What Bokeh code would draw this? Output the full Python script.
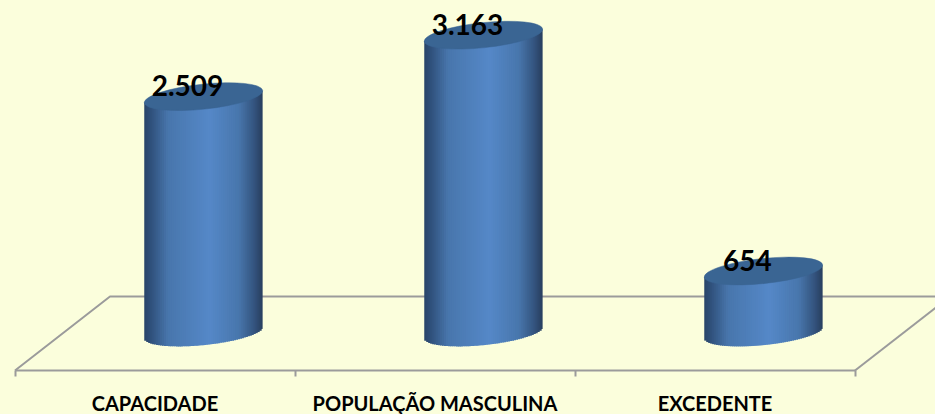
from bokeh.plotting import figure
from bokeh.embed import file_html
from bokeh.resources import INLINE
from bokeh.models import FixedTicker, ColumnDataSource
from bokeh.core.properties import value
import math

categories = ["CAPACIDADE", "POPULAÇÃO MASCULINA", "EXCEDENTE"]
values = [2509, 3163, 654]
labels = ["2.509", "3.163", "654"]

BG = "#fbfedc"
GRAY = "#9b9b9b"
TOP = "#3a6593"
W, H = 935, 414
PX_X = 280.0       # pixels per category
PX_Y = 0.094       # pixels per unit
X0 = 14.5          # px of category boundary 0
BASE = 370         # px of axis line
ZERO = 332         # px of value 0
BAR_OFFSET = 0.673 # cylinder centre inside its category

x_range = (-X0 / PX_X, (W - X0) / PX_X)
y_range = (-(H - ZERO) / PX_Y, ZERO / PX_Y)
y_base = -(BASE - ZERO) / PX_Y

p = figure(width=W, height=H, output_backend="svg", toolbar_location=None,
           x_range=x_range, y_range=y_range, y_axis_location=None,
           background_fill_color=BG, border_fill_color=BG, outline_line_color=None,
           min_border_left=0, min_border_right=0, min_border_top=0, min_border_bottom=0)
p.grid.visible = False

# floor
depth_x, depth_y = 95 / PX_X, 74 / PX_Y
p.line([0, depth_x, 3 + depth_x], [y_base, y_base + depth_y, y_base + depth_y],
       line_color=GRAY, line_width=2)
p.line([3, 3 + depth_x], [y_base, y_base + depth_y], line_color=GRAY, line_width=2)

# cylinders
theta = math.radians(6)
a, b = 59.5, 12.5
A = math.cos(theta) ** 2 / a ** 2 + math.sin(theta) ** 2 / b ** 2
B = 2 * math.cos(theta) * math.sin(theta) * (1 / a ** 2 - 1 / b ** 2)
C = math.sin(theta) ** 2 / a ** 2 + math.cos(theta) ** 2 / b ** 2
ext = math.sqrt(a ** 2 * math.cos(theta) ** 2 + b ** 2 * math.sin(theta) ** 2)

stops = [(0.0, (40, 68, 104)), (0.07, (50, 84, 128)), (0.2, (72, 118, 172)), (0.55, (85, 136, 200)),
         (0.8, (72, 118, 172)), (0.93, (52, 84, 126)), (1.0, (40, 62, 94))]


def grad(t):
    for (t0, c0), (t1, c1) in zip(stops, stops[1:]):
        if t <= t1:
            f = (t - t0) / (t1 - t0)
            return "#%02x%02x%02x" % tuple(round(u + (v - u) * f) for u, v in zip(c0, c1))
    return "#%02x%02x%02x" % stops[-1][1]


def arcs(dx):
    d = max(B * B * dx * dx - 4 * C * (A * dx * dx - 1), 0)
    r = math.sqrt(d)
    return (-B * dx - r) / (2 * C), (-B * dx + r) / (2 * C), -B * dx / (2 * C)


N = 60
left, right, bottom, top, color = [], [], [], [], []
for i, v in enumerate(values):
    cx = i + BAR_OFFSET
    for k in range(N):
        x0 = -ext + 2 * ext * k / N
        x1 = -ext + 2 * ext * (k + 1) / N
        xm = (x0 + x1) / 2
        low, _, mid = arcs(xm)
        left.append(cx + x0 / PX_X)
        right.append(cx + (x1 + (1.0 if k < N - 1 else 0)) / PX_X)
        bottom.append(low / PX_Y)
        top.append(v + mid / PX_Y)
        color.append(grad((k + 0.5) / N))

p.quad(left="left", right="right", bottom="bottom", top="top", fill_color="color", line_color=None,
       source=ColumnDataSource(dict(left=left, right=right, bottom=bottom, top=top, color=color)))

xs = [i + BAR_OFFSET for i in range(len(values))]
p.ellipse(x=xs, y=values, width=2 * a, height=2 * b, width_units="screen", height_units="screen",
          angle=theta, fill_color=TOP, line_color=TOP, line_width=0.5)

p.text(x=xs, y=values, text=labels, x_offset=-16, y_offset=-11, text_align="center", text_baseline="middle",
       text_font=value("Lato"), text_font_style="bold", text_font_size="28px", text_color="#000000")

# axis
ax = p.xaxis[0]
ax.fixed_location = y_base
ax.bounds = (0, 3)
ax.ticker = FixedTicker(ticks=[0.5, 1.5, 2.5], minor_ticks=[0, 1, 2, 3])
ax.major_label_overrides = {0.5: categories[0], 1.5: categories[1], 2.5: categories[2]}
ax.major_tick_out = 0
ax.major_tick_in = 0
ax.minor_tick_out = 6
ax.minor_tick_in = 0
ax.minor_tick_line_color = GRAY
ax.minor_tick_line_width = 2
ax.axis_line_color = GRAY
ax.axis_line_width = 2
ax.major_label_standoff = 14
ax.major_label_text_font = "Lato"
ax.major_label_text_font_style = "bold"
ax.major_label_text_font_size = "20px"
ax.major_label_text_color = "#000000"

html = file_html(p, INLINE)
html = html.replace("<head>", "<head><style>html,body{background:%s;overflow:hidden}</style>" % BG, 1)
open("out.html", "w").write(html)
